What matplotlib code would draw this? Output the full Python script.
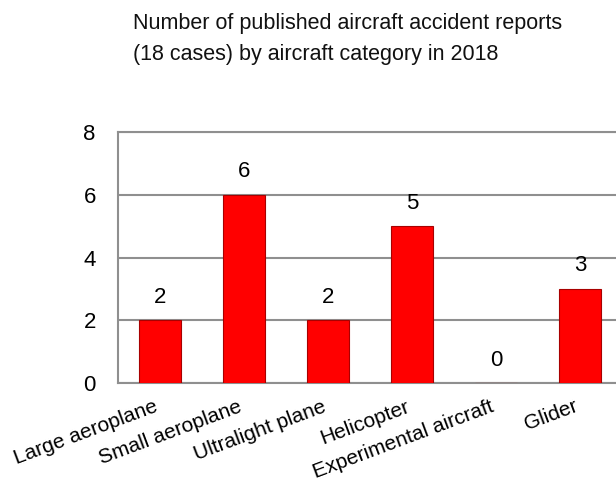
import numpy as np
import matplotlib
matplotlib.use("Agg")
import matplotlib.pyplot as plt
from matplotlib.transforms import ScaledTranslation

# aircraft categories and number of published reports
categories = ["Large aeroplane", "Small aeroplane", "Ultralight plane",
              "Helicopter", "Experimental aircraft", "Glider"]
reports = [2, 6, 2, 5, 0, 3]
y_ticks = [0, 2, 4, 6, 8]

plt.rcParams['font.family'] = ['Liberation Sans', 'DejaVu Sans']

fig = plt.figure(figsize=(6.16, 4.82), dpi=100)
ax = fig.add_axes([118 / 616, 99 / 482, 504 / 616, 251 / 482])

x = np.arange(len(categories))
ax.bar(x, reports, width=0.49, color='#ff0000', edgecolor='#a80000',
       linewidth=0.8, zorder=3)

for xi, v in zip(x, reports):
    ax.annotate(str(v), (xi, v), xytext=(0, 9), textcoords='offset points',
                ha='center', va='bottom', fontsize=16)

ax.set_xlim(-0.5, len(categories) - 0.5)
ax.set_ylim(0, 8)
ax.set_yticks(y_ticks)
ax.set_yticklabels([str(t) for t in y_ticks], fontsize=16)
ax.tick_params(axis='y', length=0, pad=16)
ax.set_xticks(x)
ax.set_xticklabels(categories, fontsize=15, rotation=20.5, ha='right',
                   va='top', rotation_mode='anchor')
ax.tick_params(axis='x', length=0, pad=10)
# nudge the slanted labels a little to the left
shift = ScaledTranslation(-6 / 100, 0, fig.dpi_scale_trans)
for lab in ax.get_xticklabels():
    lab.set_transform(lab.get_transform() + shift)

ax.grid(axis='y', color='#8f8f8f', linewidth=1.5, zorder=0)
for side in ['left', 'bottom', 'top']:
    ax.spines[side].set_color('#8f8f8f')
    ax.spines[side].set_linewidth(1.5)
ax.spines['right'].set_visible(False)

fig.text(133 / 616, 1 - 13 / 482,
         "Number of published aircraft accident reports\n"
         "(18 cases) by aircraft category in 2018",
         ha='left', va='top', fontsize=15.5, linespacing=1.6, color='#111111')

fig.savefig('out.png', dpi=100)
